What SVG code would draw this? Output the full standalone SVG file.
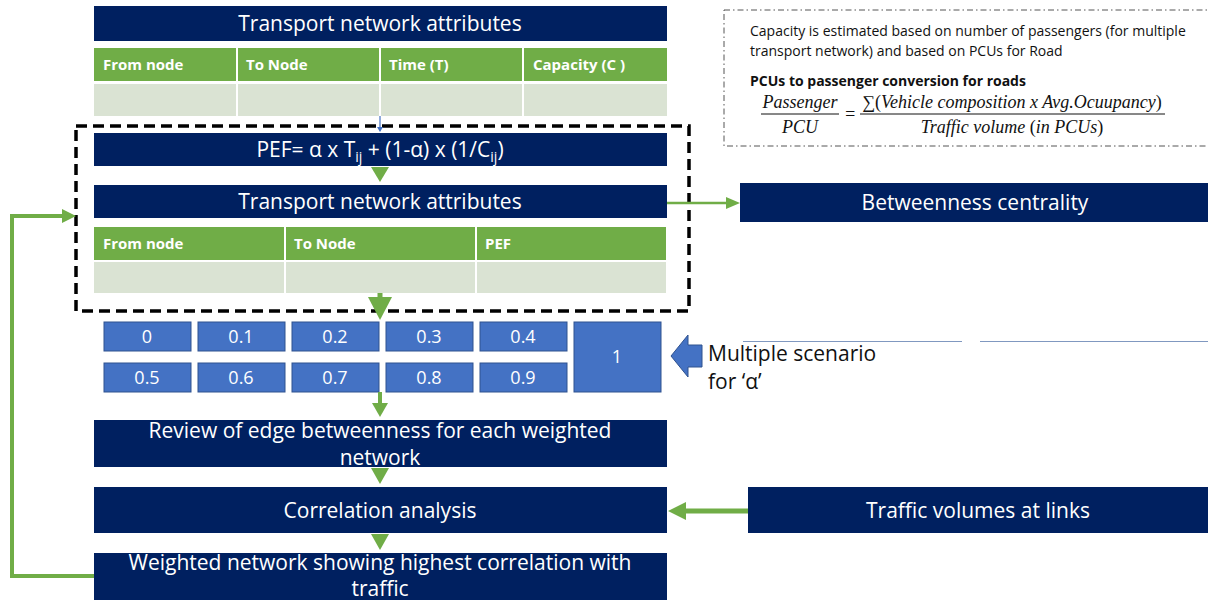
<svg xmlns="http://www.w3.org/2000/svg" width="1208" height="600" viewBox="0 0 1208 600">
<defs>
<style>
.navy{fill:#002060;}
.hdr{fill:#70AD47;}
.cell{fill:#DAE3D3;}
.tw{font-family:"Open Sans","Liberation Sans",sans-serif;fill:#fff;font-size:21px;text-anchor:middle;}
.th{font-family:"Open Sans","Liberation Sans",sans-serif;fill:#fff;font-size:15px;font-weight:bold;}
.ab{fill:#4472C4;stroke:#2F528F;stroke-width:1;}
.at{font-family:"Open Sans","Liberation Sans",sans-serif;fill:#fff;font-size:18px;text-anchor:middle;}
.gl{stroke:#70AD47;fill:none;}
.ga{fill:#70AD47;}
.note{font-family:"Open Sans","Liberation Sans",sans-serif;fill:#111;font-size:14px;}
.eq{font-family:"Liberation Serif","DejaVu Serif",serif;font-style:italic;fill:#111;font-size:18px;}
</style>
</defs>

<g id="node-tna1">
<rect class="navy" x="94" y="6" width="573" height="35"/>
<text class="tw" x="380" y="31">Transport network attributes</text>
<rect class="hdr" x="94" y="48" width="142" height="33"/>
<rect class="hdr" x="238" y="48" width="141" height="33"/>
<rect class="hdr" x="381" y="48" width="141" height="33"/>
<rect class="hdr" x="524" y="48" width="143" height="33"/>
<text class="th" x="103" y="70">From node</text>
<text class="th" x="246" y="70">To Node</text>
<text class="th" x="389" y="70">Time (T)</text>
<text class="th" x="533" y="70">Capacity (C )</text>
<rect class="cell" x="94" y="84" width="142" height="32"/>
<rect class="cell" x="238" y="84" width="141" height="32"/>
<rect class="cell" x="381" y="84" width="141" height="32"/>
<rect class="cell" x="524" y="84" width="143" height="32"/>
</g>

<g id="group-dashed">
<rect x="76" y="126" width="613" height="185" fill="none" stroke="#000" stroke-width="3.5" stroke-dasharray="11,6"/>
</g>

<g id="node-pef">
<rect class="navy" x="94" y="133" width="573" height="33"/>
<text class="tw" x="380" y="157">PEF= α x T<tspan font-size="14" dy="5">ij</tspan><tspan dy="-5"> + (1-α) x (1/C</tspan><tspan font-size="14" dy="5">ij</tspan><tspan dy="-5">)</tspan></text>
</g>

<g id="node-tna2">
<rect class="navy" x="94" y="185" width="573" height="33"/>
<text class="tw" x="380" y="209">Transport network attributes</text>
<rect class="hdr" x="94" y="227" width="190" height="33"/>
<rect class="hdr" x="286" y="227" width="189" height="33"/>
<rect class="hdr" x="477" y="227" width="189" height="33"/>
<text class="th" x="103" y="249">From node</text>
<text class="th" x="294" y="249">To Node</text>
<text class="th" x="485" y="249">PEF</text>
<rect class="cell" x="94" y="262" width="190" height="31"/>
<rect class="cell" x="286" y="262" width="189" height="31"/>
<rect class="cell" x="477" y="262" width="189" height="31"/>
</g>

<g id="node-alpha">
<rect class="ab" x="104" y="322" width="87" height="29"/>
<rect class="ab" x="198" y="322" width="87" height="29"/>
<rect class="ab" x="292" y="322" width="87" height="29"/>
<rect class="ab" x="386" y="322" width="87" height="29"/>
<rect class="ab" x="480" y="322" width="87" height="29"/>
<rect class="ab" x="104" y="363" width="87" height="29"/>
<rect class="ab" x="198" y="363" width="87" height="29"/>
<rect class="ab" x="292" y="363" width="87" height="29"/>
<rect class="ab" x="386" y="363" width="87" height="29"/>
<rect class="ab" x="480" y="363" width="87" height="29"/>
<rect class="ab" x="574" y="322" width="87" height="70"/>
<text class="at" x="147" y="343">0</text>
<text class="at" x="241" y="343">0.1</text>
<text class="at" x="335" y="343">0.2</text>
<text class="at" x="429" y="343">0.3</text>
<text class="at" x="523" y="343">0.4</text>
<text class="at" x="147" y="384">0.5</text>
<text class="at" x="241" y="384">0.6</text>
<text class="at" x="335" y="384">0.7</text>
<text class="at" x="429" y="384">0.8</text>
<text class="at" x="523" y="384">0.9</text>
<text class="at" x="617" y="363">1</text>
</g>

<g id="node-scenario">
<polygon points="671,356 688,335 688,345 702,345 702,367 688,367 688,377" fill="#4472C4" stroke="#2F528F" stroke-width="1"/>
<text class="note" style="font-size:21px" x="708" y="361">Multiple scenario</text>
<text class="note" style="font-size:21px" x="708" y="389">for ‘α’</text>
<line x1="743" y1="341.5" x2="962" y2="341.5" stroke="#8098C0" stroke-width="1"/>
<line x1="980" y1="341.5" x2="1208" y2="341.5" stroke="#8098C0" stroke-width="1"/>
</g>

<g id="node-review">
<rect class="navy" x="94" y="420" width="573" height="47"/>
<text class="tw" x="380" y="438">Review of edge betweenness for each weighted</text>
<text class="tw" x="380" y="465">network</text>
</g>

<g id="node-corr">
<rect class="navy" x="94" y="487" width="573" height="46"/>
<text class="tw" x="380" y="518">Correlation analysis</text>
</g>

<g id="node-weighted">
<rect class="navy" x="94" y="553" width="573" height="47"/>
<text class="tw" x="380" y="570">Weighted network showing highest correlation with</text>
<text class="tw" x="380" y="596">traffic</text>
</g>

<g id="node-betw">
<rect class="navy" x="740" y="183" width="468" height="39"/>
<text class="tw" x="975" y="210">Betweenness centrality</text>
</g>

<g id="node-traffic">
<rect class="navy" x="748" y="487" width="460" height="46"/>
<text class="tw" x="978" y="518">Traffic volumes at links</text>
</g>

<g id="node-note">
<rect x="724" y="10" width="490" height="136" fill="none" stroke="#555" stroke-width="1" stroke-dasharray="6,3,1.5,3"/>
<text class="note" x="750" y="36">Capacity is estimated based on number of passengers (for multiple</text>
<text class="note" x="750" y="56">transport network) and based on PCUs for Road</text>
<text class="note" x="750" y="86" font-weight="bold">PCUs to passenger conversion for roads</text>
<text class="eq" x="800" y="108" text-anchor="middle">Passenger</text>
<line x1="761" y1="114" x2="839" y2="114" stroke="#111" stroke-width="1"/>
<text class="eq" x="800" y="133" text-anchor="middle">PCU</text>
<text class="eq" x="844" y="120" font-style="normal">=</text>
<text class="eq" x="1012" y="108" text-anchor="middle"><tspan font-style="normal">∑(</tspan>Vehicle composition x Avg.Ocuupancy<tspan font-style="normal">)</tspan></text>
<line x1="860" y1="114" x2="1165" y2="114" stroke="#111" stroke-width="1"/>
<text class="eq" x="1012" y="133" text-anchor="middle">Traffic volume <tspan font-style="normal">(</tspan>in PCUs<tspan font-style="normal">)</tspan></text>
</g>

<g id="connectors">
<line x1="380" y1="116" x2="380" y2="127" stroke="#4472C4" stroke-width="1.2"/>
<polygon points="377,127 383,127 380,132" fill="#4472C4"/>
<polygon points="371,167 389,167 380,182" class="ga"/>
<line x1="380" y1="293" x2="380" y2="305" class="gl" stroke-width="5"/>
<polygon points="368,297 392,297 380,320" class="ga"/>
<line x1="380" y1="392" x2="380" y2="405" class="gl" stroke-width="4"/>
<polygon points="372,403 388,403 380,417" class="ga"/>
<polygon points="371,468 389,468 380,484" class="ga"/>
<polygon points="371,534 389,534 380,550" class="ga"/>
<line x1="667" y1="203" x2="728" y2="203" class="gl" stroke-width="2.5"/>
<polygon points="726,197 740,203 726,209" class="ga"/>
<line x1="748" y1="511" x2="684" y2="511" class="gl" stroke-width="5"/>
<polygon points="686,502 668,511 686,520" class="ga"/>
<polyline points="94,576 12,576 12,216 64,216" class="gl" stroke-width="4"/>
<polygon points="62,209 76,216 62,223" class="ga"/>
</g>
</svg>
